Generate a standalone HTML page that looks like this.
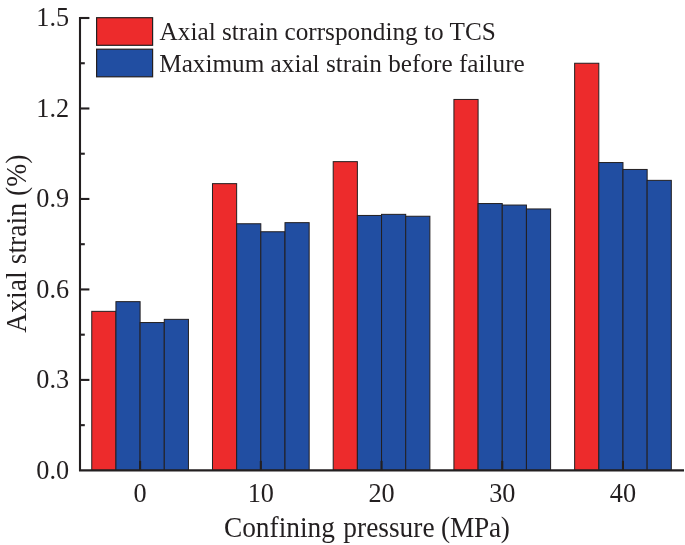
<!DOCTYPE html>
<html><head><meta charset="utf-8"><title>chart</title>
<style>html,body{margin:0;padding:0;background:#fff}svg{display:block;will-change:transform}text{font-family:"Liberation Serif",serif;fill:#231f20}</style></head>
<body>
<svg width="685" height="545" viewBox="0 0 685 545">
<rect width="685" height="545" fill="#fff"/>
<g stroke="#231f20" stroke-width="1.0">
<rect x="91.76" y="311.35" width="24.17" height="159.05" fill="#ed2b2c"/>
<rect x="115.93" y="301.65" width="24.17" height="168.75" fill="#214ea2"/>
<rect x="140.10" y="322.55" width="24.17" height="147.85" fill="#214ea2"/>
<rect x="164.27" y="319.35" width="24.17" height="151.05" fill="#214ea2"/>
<rect x="212.48" y="183.65" width="24.17" height="286.75" fill="#ed2b2c"/>
<rect x="236.65" y="223.75" width="24.17" height="246.65" fill="#214ea2"/>
<rect x="260.82" y="231.75" width="24.17" height="238.65" fill="#214ea2"/>
<rect x="284.99" y="222.65" width="24.17" height="247.75" fill="#214ea2"/>
<rect x="333.20" y="161.65" width="24.17" height="308.75" fill="#ed2b2c"/>
<rect x="357.37" y="215.45" width="24.17" height="254.95" fill="#214ea2"/>
<rect x="381.54" y="214.35" width="24.17" height="256.05" fill="#214ea2"/>
<rect x="405.71" y="216.25" width="24.17" height="254.15" fill="#214ea2"/>
<rect x="453.92" y="99.45" width="24.17" height="370.95" fill="#ed2b2c"/>
<rect x="478.09" y="203.55" width="24.17" height="266.85" fill="#214ea2"/>
<rect x="502.26" y="205.05" width="24.17" height="265.35" fill="#214ea2"/>
<rect x="526.43" y="208.95" width="24.17" height="261.45" fill="#214ea2"/>
<rect x="574.64" y="63.25" width="24.17" height="407.15" fill="#ed2b2c"/>
<rect x="598.81" y="162.55" width="24.17" height="307.85" fill="#214ea2"/>
<rect x="622.98" y="169.45" width="24.17" height="300.95" fill="#214ea2"/>
<rect x="647.15" y="180.35" width="24.17" height="290.05" fill="#214ea2"/>
</g>
<g stroke="#231f20" stroke-width="2.1" fill="none">
<path d="M80.00 16.90 V470.40 H684"/>
<path d="M80.00 425.16 h4.80"/>
<path d="M80.00 379.92 h9.40"/>
<path d="M80.00 334.68 h4.80"/>
<path d="M80.00 289.44 h9.40"/>
<path d="M80.00 244.20 h4.80"/>
<path d="M80.00 198.96 h9.40"/>
<path d="M80.00 153.72 h4.80"/>
<path d="M80.00 108.48 h9.40"/>
<path d="M80.00 63.24 h4.80"/>
<path d="M80.00 18.00 h9.40"/>
<path d="M140.10 470.40 v-9.5"/>
<path d="M260.82 470.40 v-9.5"/>
<path d="M381.54 470.40 v-9.5"/>
<path d="M502.26 470.40 v-9.5"/>
<path d="M622.98 470.40 v-9.5"/>
</g>
<g font-size="28.30">
<text transform="translate(69.2 478.70) scale(0.9280 1)" text-anchor="end">0.0</text>
<text transform="translate(69.2 388.22) scale(0.9280 1)" text-anchor="end">0.3</text>
<text transform="translate(69.2 297.74) scale(0.9280 1)" text-anchor="end">0.6</text>
<text transform="translate(69.2 207.26) scale(0.9280 1)" text-anchor="end">0.9</text>
<text transform="translate(69.2 116.78) scale(0.9280 1)" text-anchor="end">1.2</text>
<text transform="translate(69.2 26.30) scale(0.9280 1)" text-anchor="end">1.5</text>
<text transform="translate(140.10 501.8) scale(0.9280 1)" text-anchor="middle">0</text>
<text transform="translate(260.82 501.8) scale(0.9280 1)" text-anchor="middle">10</text>
<text transform="translate(381.54 501.8) scale(0.9280 1)" text-anchor="middle">20</text>
<text transform="translate(502.26 501.8) scale(0.9280 1)" text-anchor="middle">30</text>
<text transform="translate(622.98 501.8) scale(0.9280 1)" text-anchor="middle">40</text>
</g>
<g font-size="29">
<text transform="translate(223.9 537) scale(0.9445 1)">Confining<tspan dx="1.7"> pressure</tspan><tspan letter-spacing="-0.3"> (MPa)</tspan></text>
<text transform="translate(26 332.7) rotate(-90) scale(0.954 1)">Axial strain (%)</text>
</g>
<g stroke="#231f20" stroke-width="1.2">
<rect x="96.6" y="17.7" width="56" height="27.6" fill="#ed2b2c"/>
<rect x="96.6" y="49.2" width="56" height="27.6" fill="#214ea2"/>
</g>
<g font-size="25.6">
<text transform="translate(159.6 39.5) scale(0.9871 1)">Axial strain corrsponding to TCS</text>
<text transform="translate(159.2 71.8) scale(0.9856 1)">Maximum axial strain before failure</text>
</g>
</svg>
</body></html>
